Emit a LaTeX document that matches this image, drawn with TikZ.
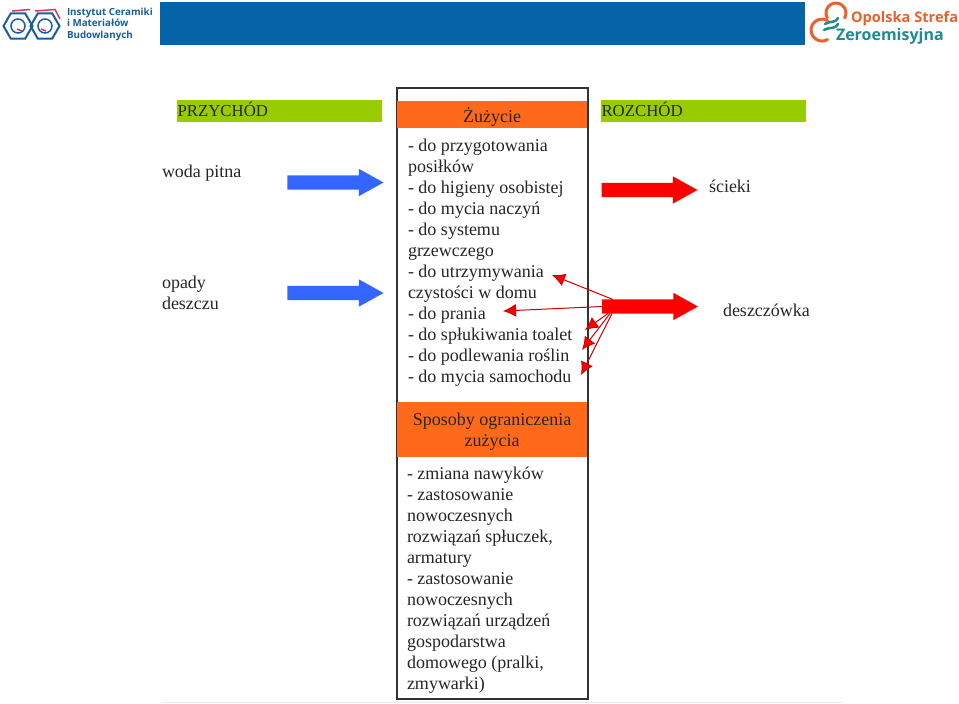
\documentclass[tikz,border=0pt]{standalone}
\usepackage{fontspec}
\setmainfont{Liberation Serif}
\newfontfamily\logofont{Open Sans}
\usetikzlibrary{positioning,calc,shapes.geometric,shapes.arrows,arrows.meta}
\definecolor{headblue}{RGB}{5,99,168}
\definecolor{barorange}{RGB}{255,106,26}
\definecolor{bargreen}{RGB}{153,204,0}
\definecolor{arrowblue}{RGB}{51,102,255}
\definecolor{logoblue}{RGB}{26,94,158}
\definecolor{logored}{RGB}{214,60,80}
\definecolor{logoorange}{RGB}{232,98,42}
\definecolor{logoteal}{RGB}{31,138,143}
\tikzset{
	plaintext/.style={font=\fontsize{18}{21}\selectfont, text=black!85, inner sep=0pt, outer sep=0pt},
	listtext/.style={plaintext, align=left, anchor=north west},
	barlabel/.style={plaintext, anchor=west, font=\fontsize{16.8}{21}\selectfont},
	greenbar/.style={fill=bargreen, minimum width=205pt, minimum height=22pt, inner sep=0pt, outer sep=0pt},
	orangebar/.style={fill=barorange, minimum width=190pt, inner sep=0pt, outer sep=0pt, anchor=north west},
	bigarrow/.style={single arrow, minimum height=96pt, inner sep=7pt, outer sep=0pt, single arrow head extend=6.5pt, single arrow head indent=0pt, single arrow tip angle=58},
	bluearrow/.style={bigarrow, fill=arrowblue},
	redarrow/.style={bigarrow, fill=red},
	thinred/.style={draw=red!80!black, line width=1pt, -{Latex[length=13pt,width=13pt,fill=red]}},
	logotext/.style={inner sep=0pt, outer sep=0pt, anchor=west},
	hexa/.style={regular polygon, regular polygon sides=6, draw=logoblue, line width=2pt, minimum size=29pt, inner sep=0pt},
	ring/.style={circle, draw=logoblue, line width=1.5pt, minimum size=14pt, inner sep=0pt}
}
\begin{document}
\begin{tikzpicture}[x=1pt, y=-1pt]
	\useasboundingbox (0,0) rectangle (959,704);
	\fill[white] (0,0) rectangle (959,704);
	% header
	\node[fill=headblue, minimum width=645pt, minimum height=43pt, inner sep=0pt, outer sep=0pt] (header) at (482.5,23.5) {};
	\node[hexa] (hexleft) at (18,26) {};
	\node[hexa] (hexright) at (45,26) {};
	\node[ring] (ringleft) at (hexleft) {};
	\node[ring] (ringright) at (hexright) {};
	\draw[logored, line width=1.5pt] (12,11) -- (30,9.5) (35,11) -- (55,9.5) -- (60,19) (17,29) -- (22,31) (41,29) -- (46,31);
	\node[logotext, text=logoblue, font=\logofont\bfseries\fontsize{9.8}{11.5}\selectfont, align=left] (ceramiki) at (67,24) {Instytut Ceramiki\\i Materiałów\\Budowlanych};
	\draw[logoorange, line width=3pt, line cap=round] (827.3,18) arc (150:390:10);
	\draw[logoorange, line width=3pt, line cap=round] (827.5,20.5) arc (300:60:11);
	\draw[logoteal, line width=2.5pt, line cap=round] (825,24) .. controls (832,20) and (834,24) .. (838,18);
	\draw[logoteal, line width=2.5pt, line cap=round] (824,30) .. controls (832,26) and (834,30) .. (838,24);
	\node[logotext, text=logoorange, font=\logofont\bfseries\fontsize{14.6}{18}\selectfont] (opolska) at (851,18.5) {Opolska Strefa};
	\node[logotext, text=logoteal, font=\logofont\bfseries\fontsize{16}{18}\selectfont] (zero) at (836,36) {Zeroemisyjna};
	% main box
	\node[draw=black!80, line width=1.2pt, minimum width=191pt, minimum height=611pt, inner sep=0pt, outer sep=0pt] (mainbox) at (492.5,393.5) {};
	% bars
	\node[greenbar, anchor=north west] (przychod) at (177,100) {};
	\node[barlabel] (przychodtxt) at (177.5,109.5) {PRZYCHÓD};
	\node[greenbar, anchor=north west] (rozchod) at (601,100) {};
	\node[barlabel] (rozchodtxt) at (601.5,109.5) {ROZCHÓD};
	\node[orangebar, minimum height=27pt] (zuzycie) at (397,101) {};
	\node[plaintext, yshift=-2.5pt] (zuzycietxt) at (zuzycie) {Żużycie};
	\node[orangebar, minimum height=55pt] (sposoby) at (397,402) {};
	\node[plaintext, align=center, yshift=-2pt] (sposobytxt) at (sposoby) {Sposoby ograniczenia\\zużycia};
	% lists
	\node[listtext] (listone) at (408,139.5) {- do przygotowania\\posiłków\\- do higieny osobistej\\- do mycia naczyń\\- do systemu\\grzewczego\\- do utrzymywania\\czystości w domu\\- do prania\\- do spłukiwania toalet\\- do podlewania roślin\\- do mycia samochodu};
	\node[listtext] (listtwo) at (407,467) {- zmiana nawyków\\- zastosowanie\\nowoczesnych\\rozwiązań spłuczek,\\armatury\\- zastosowanie\\nowoczesnych\\rozwiązań urządzeń\\gospodarstwa\\domowego (pralki,\\zmywarki)};
	% left side
	\node[plaintext, anchor=west] (woda) at (162,173) {woda pitna};
	\node[plaintext, anchor=west, align=left] (opady) at (162,293) {opady\\deszczu};
	\node[bluearrow] (arrowwoda) at (329,182.5) {};
	\node[bluearrow] (arrowopady) at (329,293) {};
	% right side
	\node[redarrow] (arrowscieki) at (643,190) {};
	\node[plaintext, anchor=west] (scieki) at (709,186) {ścieki};
	\node[redarrow] (arrowdeszcz) at (643.5,306.5) {};
	\node[plaintext, anchor=west] (deszczowka) at (723,310) {deszczówka};
	% thin arrows
	\coordinate (tipa) at (552,275);
	\coordinate (tipb) at (503,311);
	\coordinate (tipc) at (585,330);
	\coordinate (tipd) at (582,350);
	\coordinate (tipe) at (581,375);
	\draw[thinred] ([shift={(11pt,7pt)}]arrowdeszcz.tail) -- (tipa);
	\draw[thinred] (arrowdeszcz.tail) -- (tipb);
	\draw[thinred] ([shift={(6pt,-7pt)}]arrowdeszcz.tail) -- (tipc);
	\draw[thinred] ([shift={(8pt,-7pt)}]arrowdeszcz.tail) -- (tipd);
	\draw[thinred] ([shift={(10pt,-7pt)}]arrowdeszcz.tail) -- (tipe);
	% bottom rule
	\coordinate (rulestart) at (162,702);
	\coordinate (ruleend) at (843,702);
	\draw[black!8, line width=1pt] (rulestart) -- (ruleend);
\end{tikzpicture}
\end{document}
